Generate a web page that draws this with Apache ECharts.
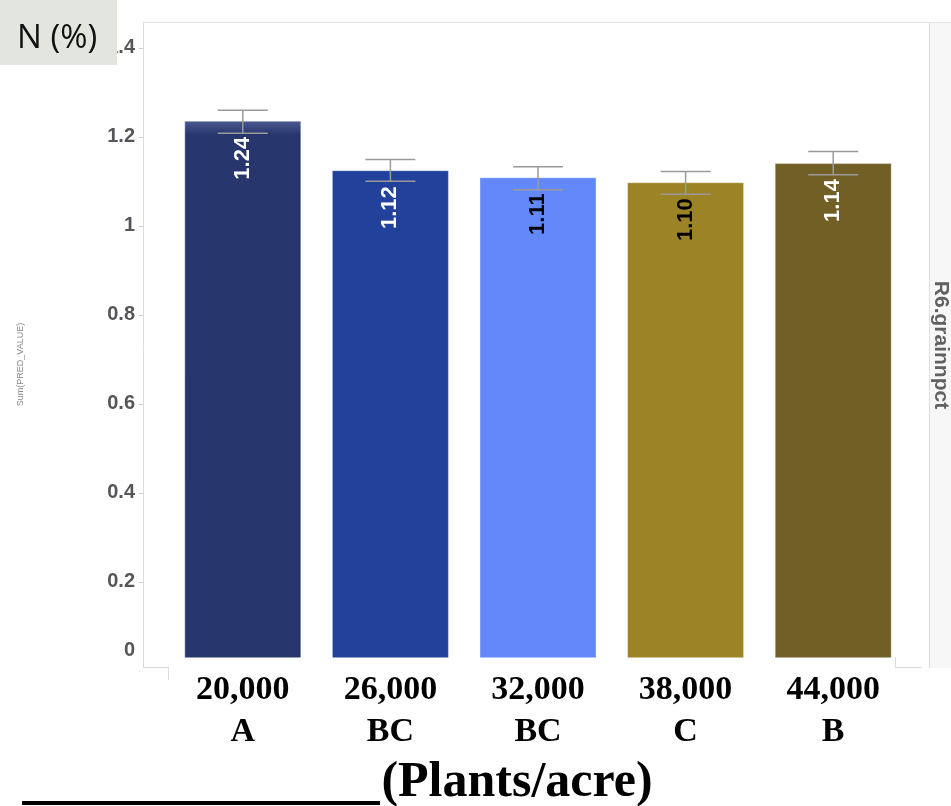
<!DOCTYPE html>
<html>
<head>
<meta charset="utf-8">
<script src="https://cdn.jsdelivr.net/npm/echarts@6/dist/echarts.min.js"></script>
<style>html,body{margin:0;padding:0;background:#fff;}#c{width:951px;height:806px;}</style>
</head>
<body>
<div id="c"></div>
<script>
var densities = ['20,000', '26,000', '32,000', '38,000', '44,000'];
var groups = ['A', 'BC', 'BC', 'C', 'B'];
var values = [1.236, 1.125, 1.109, 1.098, 1.141];
var valueLabels = ['1.24', '1.12', '1.11', '1.10', '1.14'];
var errLow = [1.208, 1.100, 1.081, 1.071, 1.115];
var errHigh = [1.260, 1.149, 1.133, 1.122, 1.167];
var yTicks = [0, 0.2, 0.4, 0.6, 0.8, 1, 1.2, 1.4];

var barColors = [
  new echarts.graphic.LinearGradient(0, 0, 0, 1, [
    {offset: 0, color: '#4a5990'}, {offset: 0.025, color: '#27366d'}, {offset: 1, color: '#27366d'}]),
  '#22419b', '#6288fa', '#9b8326', '#725f26'];
var labelColors = ['#ffffff', '#ffffff', '#000000', '#000000', '#ffffff'];

var chart = echarts.init(document.getElementById('c'), null, {renderer: 'canvas'});

var barData = values.map(function (v, i) {
  return {
    value: v,
    itemStyle: {color: barColors[i], borderColor: 'rgba(255,255,255,0.35)', borderWidth: 1},
    label: {color: labelColors[i]}
  };
});

var serif = '"Liberation Serif", "Times New Roman", serif';
var sans = 'Arial, "Liberation Sans", sans-serif';

var option = {
  animation: false,
  backgroundColor: '#ffffff',
  grid: {left: 169, right: 44, top: 22, bottom: 135, containLabel: false},
  xAxis: {
    type: 'category',
    data: densities,
    z: 60,
    axisLine: {show: false},
    axisTick: {show: false},
    axisLabel: {
      margin: 1,
      formatter: function (v, i) { return '{a|' + v + '}\n{b|' + groups[i] + '}'; },
      rich: {
        a: {fontFamily: serif, fontWeight: 'bold', fontSize: 34, color: '#000', lineHeight: 36},
        b: {fontFamily: serif, fontWeight: 'bold', fontSize: 34, color: '#000', lineHeight: 48}
      }
    }
  },
  yAxis: {
    type: 'value',
    min: 0,
    max: 1.458,
    offset: 26,
    name: 'Sum(PRED_VALUE)',
    nameLocation: 'middle',
    nameGap: 118,
    nameTextStyle: {fontFamily: sans, fontSize: 9, color: '#8a8a8a', padding: [0, 0, 0, -36]},
    splitLine: {show: false},
    axisLine: {show: true, lineStyle: {color: '#dcdcdc', width: 1}},
    axisTick: {show: true, length: 4, lineStyle: {color: '#cfcfcf'}, customValues: yTicks},
    axisLabel: {
      customValues: yTicks,
      margin: 8,
      fontFamily: sans,
      fontWeight: 'bold',
      fontSize: 20,
      color: '#555659',
      formatter: function (v) { return v === 0 ? '{z|0}' : String(Math.round(v * 10) / 10); },
      rich: {
        z: {fontFamily: sans, fontWeight: 'bold', fontSize: 20, color: '#555659', padding: [0, 0, 42, 0]}
      }
    }
  },
  series: [
    {
      type: 'bar',
      data: barData,
      barWidth: 117,
      z: 2,
      label: {
        show: true,
        position: 'insideTop',
        rotate: 90,
        align: 'right',
        verticalAlign: 'middle',
        distance: 16,
        fontFamily: sans,
        fontWeight: 'bold',
        fontSize: 22,
        formatter: function (p) { return valueLabels[p.dataIndex]; }
      }
    },
    {
      type: 'custom',
      z: 3,
      data: errLow.map(function (lo, i) { return [i, lo, errHigh[i]]; }),
      renderItem: function (params, api) {
        var i = api.value(0);
        var lo = api.coord([i, api.value(1)]);
        var hi = api.coord([i, api.value(2)]);
        var hw = 25;
        var st = {stroke: '#9a9a9a', lineWidth: 1.5};
        return {
          type: 'group',
          children: [
            {type: 'line', shape: {x1: lo[0], y1: lo[1], x2: hi[0], y2: hi[1]}, style: st},
            {type: 'line', shape: {x1: lo[0] - hw, y1: lo[1], x2: lo[0] + hw, y2: lo[1]}, style: st},
            {type: 'line', shape: {x1: hi[0] - hw, y1: hi[1], x2: hi[0] + hw, y2: hi[1]}, style: st}
          ]
        };
      }
    }
  ],
  graphic: [
    {type: 'line', z: 1, shape: {x1: 143, y1: 22.5, x2: 929, y2: 22.5}, style: {stroke: '#e4e4e4', lineWidth: 1}},
    {type: 'rect', z: 1, shape: {x: 929, y: 22, width: 22, height: 646}, style: {fill: '#f7f7f7'}},
    {type: 'line', z: 1, shape: {x1: 929.5, y1: 22, x2: 929.5, y2: 668}, style: {stroke: '#dedede', lineWidth: 1}},
    {type: 'line', z: 1, shape: {x1: 880, y1: 22.5, x2: 951, y2: 22.5}, style: {stroke: '#e4e4e4', lineWidth: 1}},
    {type: 'text', z: 5, x: 941, y: 345, rotation: -Math.PI / 2,
      style: {text: 'R6.grainnpct', fill: '#616161', font: 'bold 21px Arial, "Liberation Sans", sans-serif', align: 'center', verticalAlign: 'middle'}},
    {type: 'rect', z: 50, shape: {x: 140, y: 668, width: 6, height: 10}, style: {fill: '#ffffff'}},
    {type: 'line', z: 51, shape: {x1: 143, y1: 667.5, x2: 922, y2: 667.5}, style: {stroke: '#dcdcdc', lineWidth: 1}},
    {type: 'rect', z: 52, shape: {x: 168, y: 657.5, width: 728, height: 95}, style: {fill: '#ffffff'}},
    {type: 'line', z: 53, shape: {x1: 168.5, y1: 667, x2: 168.5, y2: 680}, style: {stroke: '#dcdcdc', lineWidth: 1}},
    {type: 'line', z: 53, shape: {x1: 895.5, y1: 657, x2: 895.5, y2: 668}, style: {stroke: '#dcdcdc', lineWidth: 1}},
    {type: 'rect', z: 70, shape: {x: 168, y: 742, width: 728, height: 12}, style: {fill: '#ffffff'}},
    {type: 'rect', z: 100, shape: {x: 0, y: 0, width: 117, height: 65}, style: {fill: '#e3e6de'}},
    {type: 'text', z: 101, x: 17, y: 39,
      style: {text: 'N (%)', fill: '#111111', font: '33px "Open Sans", sans-serif', align: 'left', verticalAlign: 'middle'}},
    {type: 'text', z: 101, x: 517, y: 783,
      style: {text: '(Plants/acre)', fill: '#000000', font: 'bold 50px "Liberation Serif", "Times New Roman", serif', align: 'center', verticalAlign: 'middle'}},
    {type: 'rect', z: 101, shape: {x: 22, y: 801, width: 358, height: 4}, style: {fill: '#000000'}}
  ]
};
chart.setOption(option);
</script>
</body>
</html>
